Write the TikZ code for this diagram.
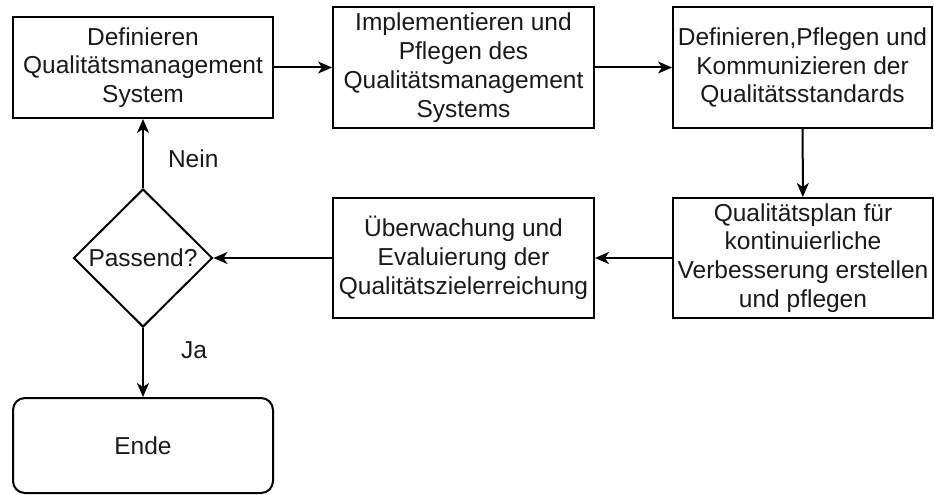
\documentclass[tikz,border=0pt]{standalone}
\usepackage{fontspec}
\setmainfont{Liberation Sans}
\usetikzlibrary{shapes.geometric,arrows.meta}
\begin{document}
\begin{tikzpicture}[x=1pt,y=-1pt,
  every node/.style={font=\fontsize{24.5}{28.8}\selectfont, text=black!90},
  procbox/.style={draw, line width=2pt, rectangle, inner sep=0pt, align=center},
  decision/.style={draw, line width=2pt, diamond, aspect=1, inner sep=0pt,
    minimum width=139pt, minimum height=138pt},
  terminal/.style={draw, line width=2pt, rectangle, rounded corners=12pt,
    inner sep=0pt, minimum width=260pt, minimum height=95pt},
  flow/.style={line width=2pt, -{Stealth[length=14pt,width=12pt,inset=4pt]}},
  lbl/.style={inner sep=0pt}]
\useasboundingbox (0,0) rectangle (934,495);

% process steps
\node[procbox, minimum width=260pt, minimum height=101pt] (define) at (143,67.5)
  {Definieren\\Qualitätsmanagement\\System};
\node[procbox, minimum width=261pt, minimum height=121pt] (implement) at (463.5,67.5)
  {Implementieren und\\Pflegen des\\Qualitätsmanagement\\Systems};
\node[procbox, minimum width=259pt, minimum height=121pt] (standards) at (802.5,67.5)
  {Definieren,Pflegen und\\Kommunizieren der\\Qualitätsstandards};
\node[procbox, minimum width=260pt, minimum height=120pt] (plan) at (803,258)
  {Qualitätsplan für\\kontinuierliche\\Verbesserung erstellen\\und pflegen};
\node[procbox, minimum width=261pt, minimum height=120pt] (monitor) at (463.5,258)
  {Überwachung und\\Evaluierung der\\Qualitätszielerreichung};

% decision and end
\node[decision] (fits) at (143,258) {Passend?};
\node[terminal] (finish) at (143,445.5) {Ende};

% connectors
\draw[flow] (define) -- (implement);
\draw[flow] (implement) -- (standards);
\draw[flow] (standards) -- (plan);
\draw[flow] (plan) -- (monitor);
\draw[flow] (monitor) -- (fits);
\draw[flow] (fits.north) -- node[lbl, pos=0.42, right=24pt] {Nein} (define.south);
\draw[flow] (fits.south) -- node[lbl, pos=0.32, right=37pt] {Ja} (finish.north);
\end{tikzpicture}
\end{document}
